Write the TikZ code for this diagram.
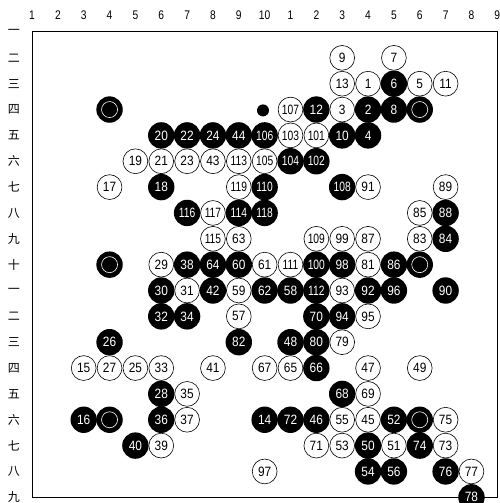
\documentclass[tikz,border=0pt]{standalone}
\usepackage{fontspec}
\setmainfont{Liberation Sans}
\newfontfamily\cjk{Noto Sans CJK SC}
\usepackage{graphicx}
\newcommand{\gnum}[1]{\ifnum#1>99\relax\scalebox{0.76}[1]{#1}\else\scalebox{0.88}[1]{#1}\fi}
\begin{document}
\begin{tikzpicture}[x=1pt,y=-1pt,
  wst/.style={circle,draw=black,line width=0.6pt,fill=white,minimum size=24.8pt,inner sep=0pt,font=\fontsize{13.5}{13.5}\selectfont},
  bst/.style={circle,fill=black,text=white,minimum size=26.4pt,inner sep=0pt,font=\fontsize{13.5}{13.5}\selectfont},
  ringmark/.style={draw=white,line width=0.6pt},
  collab/.style={inner sep=0pt,font=\fontsize{12.5}{12.5}\selectfont},
  rowlab/.style={inner sep=0pt,font=\cjk\fontsize{12}{12}\selectfont},
  frame/.style={line width=0.7pt}]
\clip (0,0) rectangle (500,503);
% coordinates labels
\foreach \c/\t in {1/1,2/2,3/3,4/4,5/5,6/6,7/7,8/8,9/9,10/10,11/1,12/2,13/3,14/4,15/5,16/6,17/7,18/8,19/9}
  \node[collab] (cl\c) at ({32+25.85*(\c-1)},15) {\scalebox{0.82}[1]{\t}};
\foreach \r/\t in {1/一,2/二,3/三,4/四,5/五,6/六,7/七,8/八,9/九,10/十,11/一,12/二,13/三,14/四,15/五,16/六,17/七,18/八,19/九}
  \node[rowlab] (rl\r) at (14,{32+25.85*(\r-1)}) {\t};
% board edge
\draw[frame] (32,31) rectangle (497,497);
% star point
\coordinate (dot) at (263,110.4);
\fill (dot) circle (6pt);
% marked black stones
\foreach \c/\r [count=\i] in {4/4,16/4,4/10,16/10,4/16,16/16}{
  \node[bst] (m\i) at ({32+25.85*(\c-1)},{32+25.85*(\r-1)}) {};
  \draw[ringmark] (m\i.center) circle (8pt);
}
% black stones
\foreach \c/\r/\n in {15/3/6,
  12/4/12,14/4/2,15/4/8,
  6/5/20,7/5/22,8/5/24,9/5/44,10/5/106,13/5/10,14/5/4,
  11/6/104,12/6/102,
  6/7/18,10/7/110,13/7/108,
  7/8/116,9/8/114,10/8/118,17/8/88,
  17/9/84,
  7/10/38,8/10/64,9/10/60,12/10/100,13/10/98,15/10/86,
  6/11/30,8/11/42,10/11/62,11/11/58,12/11/112,14/11/92,15/11/96,17/11/90,
  6/12/32,7/12/34,12/12/70,13/12/94,
  4/13/26,9/13/82,11/13/48,12/13/80,
  12/14/66,
  6/15/28,13/15/68,
  3/16/16,6/16/36,10/16/14,11/16/72,12/16/46,15/16/52,
  5/17/40,14/17/50,16/17/74,
  14/18/54,15/18/56,17/18/76,
  18/19/78}
  \node[bst] (s\n) at ({32+25.85*(\c-1)},{32+25.85*(\r-1)}) {\gnum{\n}};
% white stones
\foreach \c/\r/\n in {13/2/9,15/2/7,
  13/3/13,14/3/1,16/3/5,17/3/11,
  11/4/107,13/4/3,
  11/5/103,12/5/101,
  5/6/19,6/6/21,7/6/23,8/6/43,9/6/113,10/6/105,
  4/7/17,9/7/119,14/7/91,17/7/89,
  8/8/117,16/8/85,
  8/9/115,9/9/63,12/9/109,13/9/99,14/9/87,16/9/83,
  6/10/29,10/10/61,11/10/111,14/10/81,
  7/11/31,9/11/59,13/11/93,
  9/12/57,14/12/95,
  13/13/79,
  3/14/15,4/14/27,5/14/25,6/14/33,8/14/41,10/14/67,11/14/65,14/14/47,16/14/49,
  7/15/35,14/15/69,
  7/16/37,13/16/55,14/16/45,17/16/75,
  6/17/39,12/17/71,13/17/53,15/17/51,17/17/73,
  10/18/97,18/18/77}
  \node[wst] (s\n) at ({32+25.85*(\c-1)},{32+25.85*(\r-1)}) {\gnum{\n}};
\end{tikzpicture}
\end{document}
